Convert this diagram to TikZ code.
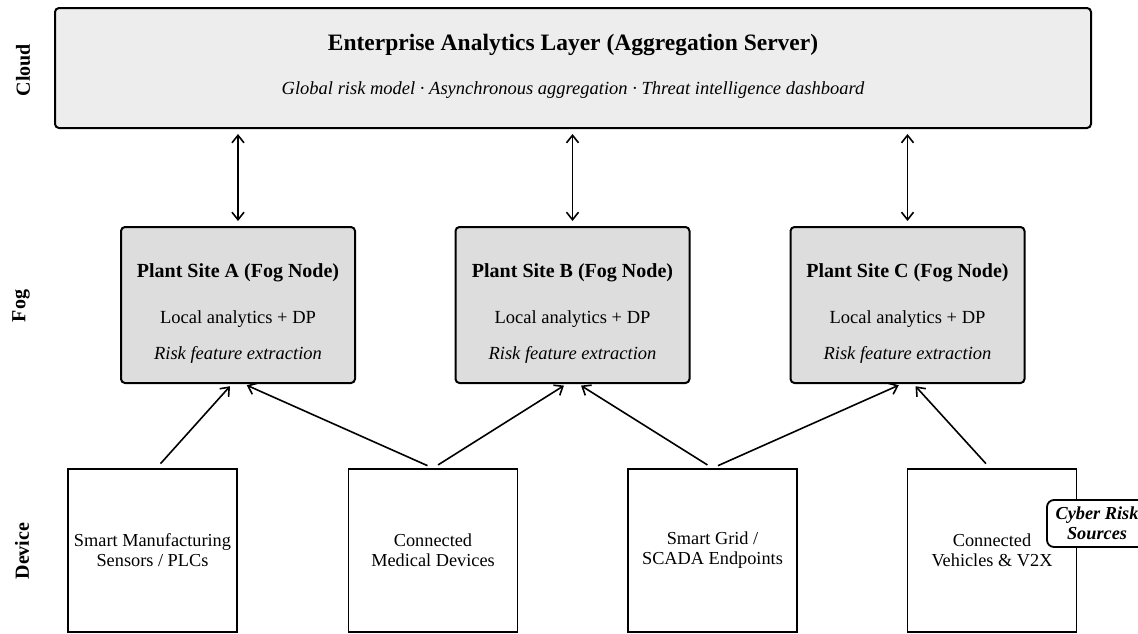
\documentclass[tikz,border=0pt]{standalone}
\usepackage{fontspec}
\setmainfont{Liberation Serif}
\usetikzlibrary{arrows.meta,calc}

\tikzset{
  tier/.style={font=\fontsize{20}{23}\selectfont\bfseries, rotate=90},
  cloudbox/.style={draw, line width=2pt, rounded corners=4pt, fill=black!7},
  fogbox/.style={draw, line width=2pt, rounded corners=4pt, fill=black!13.5},
  devbox/.style={draw, line width=1.8pt, fill=white, align=center,
    font=\fontsize{18.3}{20}\selectfont},
  risktag/.style={draw, line width=1.8pt, rounded corners=7pt, fill=white,
    align=center, font=\fontsize{18.3}{20}\selectfont\bfseries\itshape,
    minimum width=100pt, minimum height=47pt, inner sep=0pt},
  headtext/.style={font=\fontsize{20}{24}\selectfont\bfseries},
  bodytext/.style={font=\fontsize{18.5}{21}\selectfont},
  slanttext/.style={font=\fontsize{18.5}{21}\selectfont\itshape},
  tip/.style={Straight Barb[length=7.5pt,width=12pt,line width=1.6pt]},
  link/.style={line width=1.6pt, -{Straight Barb[length=7.5pt,width=12pt]}},
  dlink/.style={line width=1.6pt, {Straight Barb[length=7.5pt,width=12pt]}-{Straight Barb[length=7.5pt,width=12pt]}}
}

\begin{document}
\begin{tikzpicture}[x=1pt, y=-1pt]
\useasboundingbox (0,0) rectangle (1138,633);

% tier labels
\node[tier] (lcloud) at (23,70) {Cloud};
\node[tier] (lfog) at (21,306) {Fog};
\node[tier] (ldev) at (22,551) {Device};

% cloud layer
\node[cloudbox, minimum width=1036pt, minimum height=120pt, inner sep=0pt] (cloud) at (573,68) {};
\node[font=\fontsize{23.5}{27}\selectfont\bfseries] (cloudt) at (573,45) {Enterprise Analytics Layer (Aggregation Server)};
\node[slanttext] (clouds) at (573,90) {Global risk model · Asynchronous aggregation · Threat intelligence dashboard};

% fog layer
\foreach \n/\x/\s in {A/238/A, B/572.5/B, C/907.5/C} {
  \node[fogbox, minimum width=234pt, minimum height=156pt, inner sep=0pt] (fog\n) at (\x,305) {};
  \node[headtext] (fog\n t) at (\x,273) {Plant Site \s\ (Fog Node)};
  \node[bodytext] (fog\n l) at (\x,319) {Local analytics + DP};
  \node[slanttext] (fog\n i) at (\x,355) {Risk feature extraction};
}

% device layer
\node[devbox, minimum width=169pt, minimum height=163pt] (devA) at (152.5,550.5) {Smart Manufacturing\\Sensors / PLCs};
\node[devbox, minimum width=169pt, minimum height=163pt] (devB) at (433,550.5) {Connected\\Medical Devices};
\node[devbox, minimum width=169pt, minimum height=163pt] (devC) at (712.5,550.5) {Smart Grid /\\SCADA Endpoints};
\node[devbox, minimum width=169pt, minimum height=163pt] (devD) at (992,550.5) {Connected\\Vehicles \& V2X};

\node[risktag] (risk) at (1097,523.5) {Cyber Risk\\Sources};

% cloud <-> fog links
\foreach \n in {A,B,C} {
  \draw[dlink, shorten <=5pt, shorten >=5pt] (fog\n.north) -- (cloud.south -| fog\n.north);
}

% device -> fog links
\draw[link, shorten <=6pt, shorten >=3pt] ($(devA.north)+(4,0)$) -- ($(fogA.south)+(-6,0)$);
\draw[link, shorten <=6pt, shorten >=3pt] (devB.north) -- ($(fogA.south)+(6,0)$);
\draw[link, shorten <=6pt, shorten >=3pt] (devB.north) -- ($(fogB.south)+(-6,0)$);
\draw[link, shorten <=6pt, shorten >=3pt] (devC.north) -- ($(fogB.south)+(6,0)$);
\draw[link, shorten <=6pt, shorten >=3pt] (devC.north) -- ($(fogC.south)+(-6,0)$);
\draw[link, shorten <=6pt, shorten >=3pt] ($(devD.north)+(-2,0)$) -- ($(fogC.south)+(6,0)$);
\end{tikzpicture}
\end{document}
